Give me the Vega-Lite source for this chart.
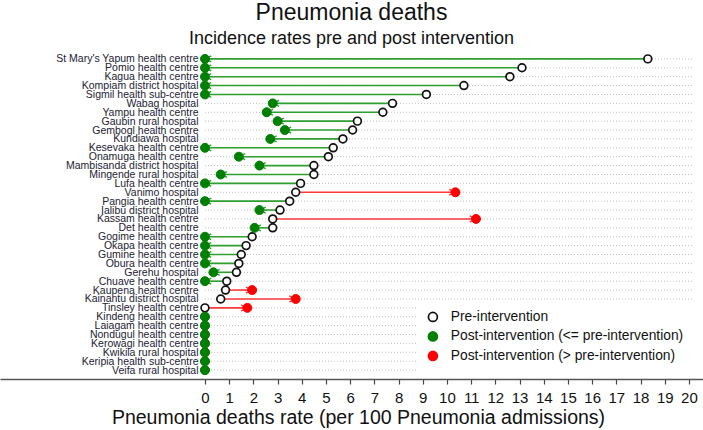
{
  "$schema": "https://vega.github.io/schema/vega-lite/v6.json",
  "autosize": {"type": "none"},
  "width": 703,
  "height": 329,
  "padding": {"left": 0, "top": 50, "right": 0, "bottom": 51},
  "background": "white",
  "config": {"view": {"stroke": null}, "font": "Liberation Sans", "axisX": {"labelOverlap": false}},
  "title": {
    "text": "Pneumonia deaths",
    "subtitle": "Incidence rates pre and post intervention",
    "fontSize": 23,
    "fontWeight": "normal",
    "color": "#111",
    "subtitleFontSize": 18,
    "subtitleColor": "#111",
    "subtitlePadding": 5,
    "anchor": "middle",
    "offset": 2,
    "font": "Liberation Sans",
    "subtitleFont": "Liberation Sans"
  },
  "data": {
    "values": [
      {"name": "St Mary's Yapum health centre", "pre": 18.3, "post": 0, "ptype": "Post-intervention (<= pre-intervention)"},
      {"name": "Pomio health centre", "pre": 13.1, "post": 0, "ptype": "Post-intervention (<= pre-intervention)"},
      {"name": "Kagua health centre", "pre": 12.6, "post": 0, "ptype": "Post-intervention (<= pre-intervention)"},
      {"name": "Kompiam district hospital", "pre": 10.7, "post": 0, "ptype": "Post-intervention (<= pre-intervention)"},
      {"name": "Sigmil health sub-centre", "pre": 9.15, "post": 0, "ptype": "Post-intervention (<= pre-intervention)"},
      {"name": "Wabag hospital", "pre": 7.75, "post": 2.8, "ptype": "Post-intervention (<= pre-intervention)"},
      {"name": "Yampu health centre", "pre": 7.35, "post": 2.55, "ptype": "Post-intervention (<= pre-intervention)"},
      {"name": "Gaubin rural hospital", "pre": 6.3, "post": 3.0, "ptype": "Post-intervention (<= pre-intervention)"},
      {"name": "Gembogl health centre", "pre": 6.1, "post": 3.3, "ptype": "Post-intervention (<= pre-intervention)"},
      {"name": "Kundiawa hospital", "pre": 5.7, "post": 2.7, "ptype": "Post-intervention (<= pre-intervention)"},
      {"name": "Kesevaka health centre", "pre": 5.3, "post": 0, "ptype": "Post-intervention (<= pre-intervention)"},
      {"name": "Onamuga health centre", "pre": 5.1, "post": 1.4, "ptype": "Post-intervention (<= pre-intervention)"},
      {"name": "Mambisanda district hospital", "pre": 4.5, "post": 2.25, "ptype": "Post-intervention (<= pre-intervention)"},
      {"name": "Mingende rural hospital", "pre": 4.5, "post": 0.65, "ptype": "Post-intervention (<= pre-intervention)"},
      {"name": "Lufa health centre", "pre": 3.95, "post": 0, "ptype": "Post-intervention (<= pre-intervention)"},
      {"name": "Vanimo hospital", "pre": 3.75, "post": 10.35, "ptype": "Post-intervention (> pre-intervention)"},
      {"name": "Pangia health centre", "pre": 3.5, "post": 0, "ptype": "Post-intervention (<= pre-intervention)"},
      {"name": "Ialibu district hospital", "pre": 3.1, "post": 2.25, "ptype": "Post-intervention (<= pre-intervention)"},
      {"name": "Kassam health centre", "pre": 2.8, "post": 11.2, "ptype": "Post-intervention (> pre-intervention)"},
      {"name": "Det health centre", "pre": 2.8, "post": 2.05, "ptype": "Post-intervention (<= pre-intervention)"},
      {"name": "Gogime health centre", "pre": 1.95, "post": 0, "ptype": "Post-intervention (<= pre-intervention)"},
      {"name": "Okapa health centre", "pre": 1.7, "post": 0, "ptype": "Post-intervention (<= pre-intervention)"},
      {"name": "Gumine health centre", "pre": 1.5, "post": 0, "ptype": "Post-intervention (<= pre-intervention)"},
      {"name": "Obura health centre", "pre": 1.4, "post": 0, "ptype": "Post-intervention (<= pre-intervention)"},
      {"name": "Gerehu hospital", "pre": 1.3, "post": 0.35, "ptype": "Post-intervention (<= pre-intervention)"},
      {"name": "Chuave health centre", "pre": 0.9, "post": 0, "ptype": "Post-intervention (<= pre-intervention)"},
      {"name": "Kaupena health centre", "pre": 0.85, "post": 1.95, "ptype": "Post-intervention (> pre-intervention)"},
      {"name": "Kainantu district hospital", "pre": 0.65, "post": 3.75, "ptype": "Post-intervention (> pre-intervention)"},
      {"name": "Tinsley health centre", "pre": 0, "post": 1.75, "ptype": "Post-intervention (> pre-intervention)"},
      {"name": "Kindeng health centre", "pre": 0, "post": 0, "ptype": "Post-intervention (<= pre-intervention)"},
      {"name": "Laiagam health centre", "pre": 0, "post": 0, "ptype": "Post-intervention (<= pre-intervention)"},
      {"name": "Nondugul health centre", "pre": 0, "post": 0, "ptype": "Post-intervention (<= pre-intervention)"},
      {"name": "Kerowagi health centre", "pre": 0, "post": 0, "ptype": "Post-intervention (<= pre-intervention)"},
      {"name": "Kwikila rural hospital", "pre": 0, "post": 0, "ptype": "Post-intervention (<= pre-intervention)"},
      {"name": "Keripia health sub-centre", "pre": 0, "post": 0, "ptype": "Post-intervention (<= pre-intervention)"},
      {"name": "Veifa rural hospital", "pre": 0, "post": 0, "ptype": "Post-intervention (<= pre-intervention)"}
    ]
  },
  "encoding": {
    "y": {
      "field": "name",
      "type": "nominal",
      "sort": null,
      "scale": {"type": "point", "padding": 1.38},
      "axis": {
        "title": null,
        "orient": "left",
        "domain": false,
        "ticks": false,
        "tickSize": 0,
        "grid": false,
        "labelPadding": -198,
        "labelAlign": "right",
        "labelFontSize": 10.5,
        "labelColor": "#222233",
        "labelFont": "Liberation Sans",
        "labelOverlap": false,
        "labelBound": false
      }
    }
  },
  "layer": [
    {
      "mark": {"type": "rule", "strokeDash": [1, 2], "color": "#bdbdbd", "strokeWidth": 1},
      "encoding": {
        "x": {
          "datum": 0,
          "type": "quantitative",
          "scale": {"domain": [-8.47, 20.58], "nice": false, "zero": false},
          "axis": {
            "values": [0,1,2,3,4,5,6,7,8,9,10,11,12,13,14,15,16,17,18,19,20],
            "tickCount": 30,
            "title": "Pneumonia deaths rate (per 100 Pneumonia admissions)",
            "grid": false,
            "domainColor": "#555",
            "domainWidth": 1.5,
            "tickColor": "#444",
            "tickSize": 5,
            "tickWidth": 1.2,
            "labelFontSize": 15,
            "labelColor": "#111",
            "labelPadding": 6,
            "labelFont": "Liberation Sans",
            "labelOverlap": false,
            "labelSeparation": 0,
            "labelFlush": false,
            "titleFontSize": 19.5,
            "titleFontWeight": "normal",
            "titleColor": "#111",
            "titleFont": "Liberation Sans",
            "titleX": 358,
            "titlePadding": 3
          }
        },
        "x2": {"datum": 20.2}
      }
    },
    {
      "mark": {"type": "rule", "strokeWidth": 1.6},
      "encoding": {
        "x": {"field": "pre", "type": "quantitative"},
        "x2": {"field": "post"},
        "color": {
          "condition": {"test": "datum.post > datum.pre", "value": "#ff3a3a"},
          "value": "#2f9f2f"
        }
      }
    },
    {
      "transform": [{"filter": "datum.pre != datum.post"}],
      "mark": {"type": "point", "filled": false, "size": 55, "strokeWidth": 1.4, "opacity": 1},
      "encoding": {
        "x": {"field": "post", "type": "quantitative"},
        "shape": {
          "field": "ptype",
          "type": "nominal",
          "scale": {
            "domain": ["Post-intervention (<= pre-intervention)", "Post-intervention (> pre-intervention)"],
            "range": ["M0,0L1.7,-0.8M0,0L1.7,0.8", "M0,0L-1.7,-0.8M0,0L-1.7,0.8"]
          },
          "legend": null
        },
        "color": {
          "condition": {"test": "datum.post > datum.pre", "value": "#ff3a3a"},
          "value": "#2f9f2f"
        }
      }
    },
    {
      "mark": {"type": "point", "shape": "circle", "filled": false, "size": 60, "strokeWidth": 1.7, "opacity": 1},
      "encoding": {
        "x": {"field": "pre", "type": "quantitative"},
        "fill": {
          "datum": "Pre-intervention",
          "type": "nominal",
          "scale": {
            "domain": ["Pre-intervention", "Post-intervention (<= pre-intervention)", "Post-intervention (> pre-intervention)"],
            "range": ["white", "#008000", "#ff0000"]
          },
          "legend": {
            "title": null,
            "orient": "none",
            "legendX": 418,
            "legendY": 252,
            "fillColor": "white",
            "padding": 8,
            "symbolSize": 80,
            "symbolStrokeWidth": 1.7,
            "labelFontSize": 13.8,
            "labelFont": "Liberation Sans",
            "labelColor": "#111",
            "labelOffset": 11,
            "labelLimit": 320,
            "rowPadding": 3.5,
            "symbolType": "circle"
          }
        },
        "stroke": {
          "datum": "Pre-intervention",
          "type": "nominal",
          "scale": {
            "domain": ["Pre-intervention", "Post-intervention (<= pre-intervention)", "Post-intervention (> pre-intervention)"],
            "range": ["#111111", "#008000", "#ff0000"]
          },
          "legend": {
            "title": null,
            "orient": "none",
            "legendX": 418,
            "legendY": 252,
            "fillColor": "white",
            "padding": 8,
            "symbolSize": 80,
            "symbolStrokeWidth": 1.7,
            "labelFontSize": 13.8,
            "labelFont": "Liberation Sans",
            "labelColor": "#111",
            "labelOffset": 11,
            "labelLimit": 320,
            "rowPadding": 3.5,
            "symbolType": "circle"
          }
        }
      }
    },
    {
      "mark": {"type": "point", "shape": "circle", "filled": true, "size": 80, "strokeWidth": 1, "opacity": 1},
      "encoding": {
        "x": {"field": "post", "type": "quantitative"},
        "fill": {"field": "ptype", "type": "nominal", "legend": {"title": null}},
        "stroke": {"field": "ptype", "type": "nominal", "legend": {"title": null}}
      }
    }
  ]
}
